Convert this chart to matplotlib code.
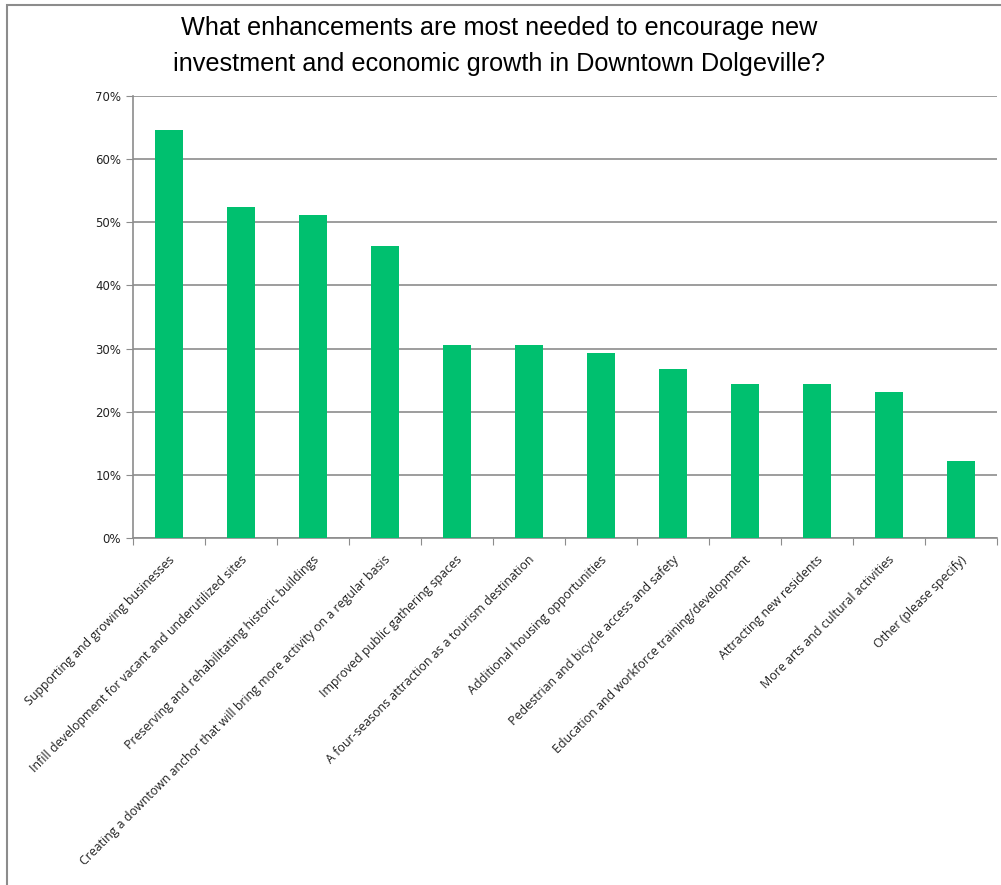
import numpy as np
import matplotlib.pyplot as plt
from matplotlib.ticker import PercentFormatter
from matplotlib.patches import Rectangle
from matplotlib.transforms import ScaledTranslation

categories = [
    "Supporting and growing businesses",
    "Infill development for vacant and underutilized sites",
    "Preserving and rehabilitating historic buildings",
    "Creating a downtown anchor that will bring more activity on a regular basis",
    "Improved public gathering spaces",
    "A four-seasons attraction as a tourism destination",
    "Additional housing opportunities",
    "Pedestrian and bicycle access and safety",
    "Education and workforce training/development",
    "Attracting new residents",
    "More arts and cultural activities",
    "Other (please specify)",
]
share = [64.6, 52.4, 51.2, 46.3, 30.5, 30.5, 29.3, 26.8, 24.4, 24.4, 23.2, 12.2]

title = ("What enhancements are most needed to encourage new\n"
         "investment and economic growth in Downtown Dolgeville?")

fig = plt.figure(figsize=(10.01, 8.85), dpi=100)
ax = fig.add_axes([133 / 1001, 1 - 538 / 885, 864 / 1001, 442 / 885])

x = np.arange(len(categories))
ax.bar(x, share, width=0.4, color="#00C06F", zorder=3)

ax.set_xlim(-0.5, len(categories) - 0.5)
ax.set_ylim(0, 70)
ax.set_yticks(np.arange(0, 71, 10))
ax.yaxis.set_major_formatter(PercentFormatter(decimals=0))
ax.grid(axis="y", color="#8c8c8c", linewidth=1.2, zorder=0)

# category boundary ticks, labels at bar centres
ax.set_xticks(np.arange(-0.5, len(categories), 1))
ax.set_xticklabels([])
ax.set_xticks(x, minor=True)
ax.set_xticklabels(categories, minor=True, rotation=45, ha="right",
                   rotation_mode="anchor", fontsize=8.9, family="Open Sans",
                   color="#222222")
ax.tick_params(axis="x", which="minor", length=0, pad=11)
ax.tick_params(axis="x", which="major", length=5, color="#8c8c8c")
ax.tick_params(axis="y", length=5, color="#8c8c8c", labelsize=8.5,
               labelcolor="#222222")
for lab in ax.get_xticklabels(minor=True):
    lab.set_transform(lab.get_transform() + ScaledTranslation(-0.01, 0, fig.dpi_scale_trans))

for s in ["top", "right"]:
    ax.spines[s].set_visible(False)
for s in ["left", "bottom"]:
    ax.spines[s].set_color("#8c8c8c")
    ax.spines[s].set_linewidth(1.2)

fig.text(0.499, 1 - 46 / 885, title, ha="center", va="center", fontsize=18.2,
         family="Liberation Sans", linespacing=1.6)

# outer chart-area frame
fig.patches.append(Rectangle((7 / 1001, -0.01), 1.1, 1 - 5 / 885 + 0.01,
                             transform=fig.transFigure, fill=False,
                             edgecolor="#8c8c8c", linewidth=1.5))

fig.savefig("out.png", dpi=100)
